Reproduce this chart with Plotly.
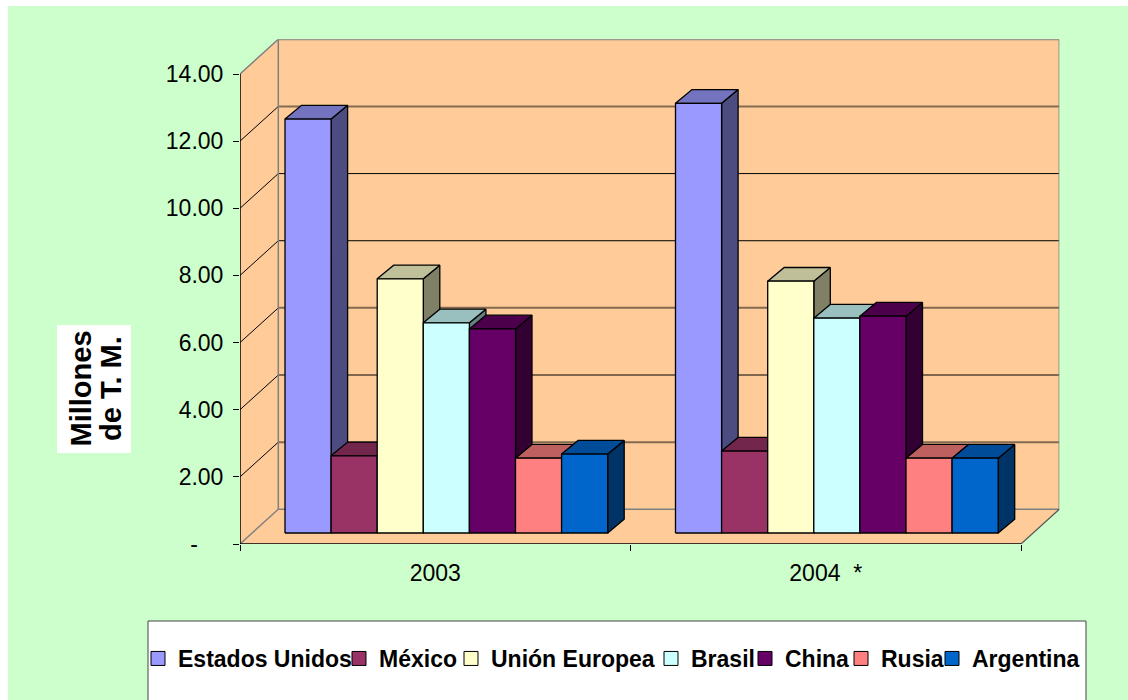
import plotly.graph_objects as go

# ---- data ----
years = ["2003", "2004\u00a0\u00a0*"]
series_names = ["Estados Unidos", "México", "Unión Europea", "Brasil", "China", "Rusia", "Argentina"]
estados_unidos = [12.33, 12.80]
mexico = [2.30, 2.44]
union_europea = [7.57, 7.50]
brasil = [6.26, 6.40]
china = [6.08, 6.46]
rusia = [2.23, 2.23]
argentina = [2.35, 2.23]
series_values = [estados_unidos, mexico, union_europea, brasil, china, rusia, argentina]
series_colors = ["#9999FF", "#993366", "#FFFFCC", "#CCFFFF", "#660066", "#FF8080", "#0066CC"]
y_ticks = [0, 2, 4, 6, 8, 10, 12, 14]
y_labels = ["-\u00a0\u00a0\u00a0\u00a0", "2.00", "4.00", "6.00", "8.00", "10.00", "12.00", "14.00"]

# ---- geometry of the oblique projection, in axis units ----
W, H = 1128, 700
PX_CAT = 390.5
PX_UNIT = 470 / 14
WALL_DX = 38.3 / PX_CAT
WALL_DY = 34.7 / PX_UNIT
FLOOR_DX = 12.3 / PX_CAT
FLOOR_DY = 11 / PX_UNIT
GAP = 32.7 / PX_CAT
BAR_W = 46.1 / PX_CAT
BAR_DX = 16.5 / PX_CAT
BAR_DY = 13.7 / PX_UNIT
XMAX = 2 + WALL_DX
YMAX = 14 + WALL_DY
FONT = "Liberation Sans, Arial, sans-serif"


def shade(hex_color, k):
    r, g, b = (int(hex_color[i:i + 2], 16) for i in (1, 3, 5))
    return f"rgb({round(r * k)},{round(g * k)},{round(b * k)})"


def px(x):
    return x / W


def py(y):
    return 1 - y / H


fig = go.Figure()


def poly(xs, ys, fill, line="rgba(0,0,0,0)", width=0):
    fig.add_trace(go.Scatter(x=xs, y=ys, mode="lines", fill="toself", fillcolor=fill,
                             line=dict(color=line, width=width), showlegend=False,
                             hoverinfo="skip", cliponaxis=False))


def line(xs, ys, color, width):
    fig.add_trace(go.Scatter(x=xs, y=ys, mode="lines", line=dict(color=color, width=width),
                             showlegend=False, hoverinfo="skip", cliponaxis=False))


# walls and floor
WALL = "#FFCC99"
poly([0, WALL_DX, WALL_DX, 0, 0], [0, WALL_DY, YMAX, 14, 0], WALL)
poly([WALL_DX, XMAX, XMAX, WALL_DX, WALL_DX], [WALL_DY, WALL_DY, YMAX, YMAX, WALL_DY], WALL)
poly([0, 2, XMAX, WALL_DX, 0], [0, 0, WALL_DY, WALL_DY, 0], WALL)

# gridlines: wall diagonal, then back wall
for v in y_ticks:
    heavy = v in (2, 6, 12)
    if 0 < v < 14:
        line([0, WALL_DX], [v, v + WALL_DY], "black", 1)
        if heavy:
            line([WALL_DX, XMAX], [v + WALL_DY, v + WALL_DY], "#846A50", 2)
        else:
            line([WALL_DX, XMAX], [v + WALL_DY, v + WALL_DY], "black", 1)
line([WALL_DX, XMAX, XMAX], [WALL_DY, WALL_DY, YMAX], "#808080", 1.5)
line([0, WALL_DX, WALL_DX], [14, YMAX, WALL_DY], "#808080", 1.5)
line([WALL_DX, XMAX], [YMAX, YMAX], "#808080", 2)
line([0, WALL_DX], [0, WALL_DY], "#808080", 1.5)
line([2, XMAX], [0, WALL_DY], "#555555", 1.2)
line([0, 2], [0, 0], "black", 1.5)
line([0, 0], [0, 14], "black", 1.5)

# bars, painted left to right so each one hides the side of its neighbour
for k, (name, vals, col) in enumerate(zip(series_names, series_values, series_colors)):
    sx, sy, tx, ty, fx, fy = [], [], [], [], [], []
    for g, v in enumerate(vals):
        x0 = g + FLOOR_DX + GAP + k * BAR_W
        x1 = x0 + BAR_W
        b = FLOOR_DY
        t = FLOOR_DY + v
        sx += [x1, x1 + BAR_DX, x1 + BAR_DX, x1, x1, None]
        sy += [b, b + BAR_DY, t + BAR_DY, t, b, None]
        tx += [x0, x1, x1 + BAR_DX, x0 + BAR_DX, x0, None]
        ty += [t, t, t + BAR_DY, t + BAR_DY, t, None]
        fx += [x0, x1, x1, x0, x0, None]
        fy += [b, b, t, t, b, None]
    poly(sx, sy, shade(col, 0.5), "black", 1.3)
    poly(tx, ty, shade(col, 0.75), "black", 1.3)
    poly(fx, fy, col, "black", 1.3)

# legend entries, one legend each so they sit at the reference positions
legend_left = [138, 339, 451, 651, 745, 841, 932]
layout_legends = {}
for k, (name, col) in enumerate(zip(series_names, series_colors)):
    key = "legend" if k == 0 else f"legend{k + 1}"
    fig.add_trace(go.Scatter(x=[None], y=[None], mode="markers", name=name,
                             marker=dict(symbol="square", size=14, color=col,
                                         line=dict(color="black", width=1)),
                             legend=key, showlegend=True, hoverinfo="skip"))
    layout_legends[key] = dict(x=px(legend_left[k]), y=py(637), xref="paper", yref="paper",
                               xanchor="left", yanchor="top", bgcolor="rgba(0,0,0,0)",
                               font=dict(family=FONT, size=23, color="black", weight="bold"),
                               itemwidth=30, borderwidth=0)

fig.update_layout(
    width=W, height=H,
    margin=dict(l=0, r=0, t=0, b=0, autoexpand=False),
    paper_bgcolor="white", plot_bgcolor="rgba(0,0,0,0)",
    xaxis=dict(domain=[px(240), px(1059.3)], range=[0, XMAX], showgrid=False, zeroline=False,
               showline=False, tickmode="array", tickvals=[0.5, 1.5], ticktext=years,
               ticks="", ticklen=0, ticklabelstandoff=13,
               tickfont=dict(family=FONT, size=23, color="black"),
               minor=dict(tickmode="array", tickvals=[0, 1, 2], ticks="outside", ticklen=6,
                          tickcolor="black", tickwidth=1, showgrid=False)),
    yaxis=dict(domain=[py(544), py(39.3)], range=[0, YMAX], showgrid=False, zeroline=False,
               showline=False, tickmode="array", tickvals=y_ticks, ticktext=y_labels,
               ticks="outside", ticklen=6, tickcolor="black", tickwidth=1, ticklabelstandoff=5,
               tickfont=dict(family=FONT, size=23, color="black")),
    shapes=[
        dict(type="rect", xref="paper", yref="paper", x0=px(8), x1=1, y0=0, y1=py(6),
             fillcolor="#CCFFCC", line_width=0, layer="below"),
        dict(type="rect", xref="paper", yref="paper", x0=px(148), x1=px(1086), y0=py(720), y1=py(621),
             fillcolor="white", line=dict(color="#444444", width=1), layer="below"),
        dict(type="rect", xref="paper", yref="paper", x0=px(57), x1=px(131), y0=py(453), y1=py(325),
             fillcolor="white", line_width=0, layer="below"),
    ],
    annotations=[
        dict(text="Millones", xref="paper", yref="paper", x=px(80.5), y=py(389), textangle=-90,
             xanchor="center", yanchor="middle", showarrow=False,
             font=dict(family=FONT, size=29, color="black", weight="bold")),
        dict(text="de T. M.", xref="paper", yref="paper", x=px(111), y=py(389), textangle=-90,
             xanchor="center", yanchor="middle", showarrow=False,
             font=dict(family=FONT, size=29, color="black", weight="bold")),
    ],
    **layout_legends,
)

fig.write_html("out.html", config={"displayModeBar": False},
               post_script="document.body.style.margin='0';document.body.style.overflow='hidden';")
